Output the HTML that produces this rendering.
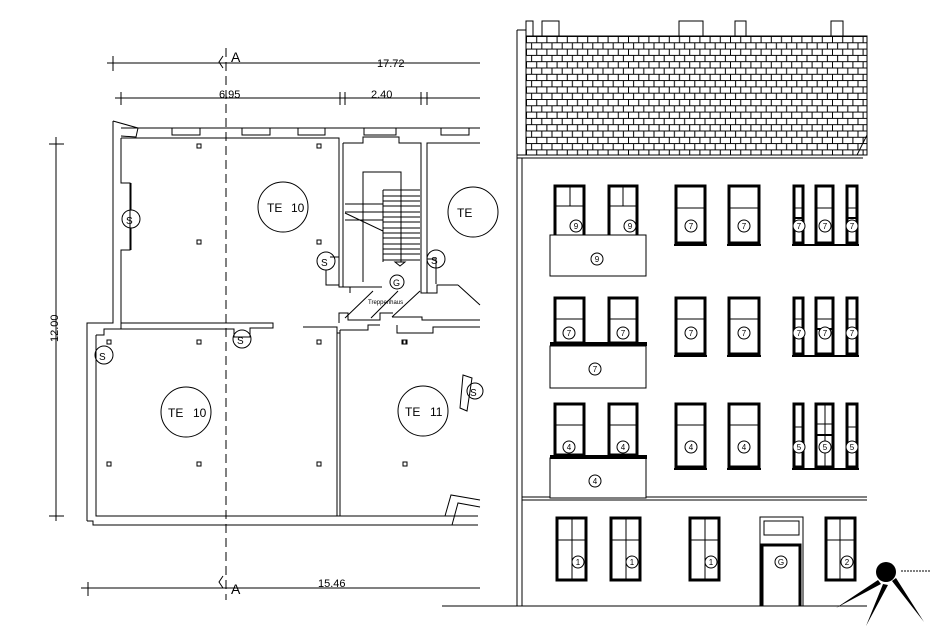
<!DOCTYPE html>
<html><head><meta charset="utf-8"><style>
html,body{margin:0;padding:0;background:#fff}
svg{display:block}
text{font-family:"Liberation Sans",sans-serif;fill:#000}
</style></head><body>
<svg width="939" height="640" viewBox="0 0 939 640" xmlns="http://www.w3.org/2000/svg">
<defs>
<pattern id="tiles" patternUnits="userSpaceOnUse" x="526" y="36" width="20.4" height="12.6">
<rect width="20.4" height="12.6" fill="#fff"/>
<path d="M0 0.5H20.4M0 6.8H20.4M0.5 0V6.3M10.7 0V6.3M5.6 6.3V12.6M15.8 6.3V12.6" stroke="#000" stroke-width="1" fill="none"/>
</pattern>
</defs>
<g fill="none" stroke="#000" stroke-width="1">
<!-- dimension lines -->
<path d="M107 63H480M113 56V71M115 98H480M121 92V105M340 92V105M345 92V105M421 92V105M427 92V105M56 137V521M49 144H64M49 516H64M81 588H480M88 582V596"/>
<path d="M226 48V600" stroke-dasharray="9,5"/>
<path d="M223 56L219 62L223 68M223 576L219 582L223 588"/>
<!-- plan walls upper -->
<path d="M113 121V323H87V521M121 138V183H130V250H121V329" />
<path d="M113 121L138 128L136 137L121 136" />
<path d="M121 128H480M121 138H339V287H350V293"/>
<path d="M172 128V135H200V128M242 128V135H270V128M298 128V135H325V128M364 128V135H396V128M441 128V135H469V128"/>
<path d="M343 143H363V137H399V143H421V293H430"/>
<path d="M343 143V287H382M427 293V143H480M427 293H437V285H458"/>
<path d="M363 282V172H401V262M383 190H420M383 196H420M383 201H420M383 206H420M383 212H420M383 217H420M383 222H420M383 228H420M383 233H420M383 238H420M383 244H420M383 249H420M383 254H420M383 260H420M383 190V262M345 204H383M345 212H383M345 220H383M345 213L383 231M395 262H405L400 266Z"/>
<!-- stair diagonals -->
<path d="M345 318L373 291M371 318L398 291M392 317L420 291M458 285L480 305"/>
<path d="M339 323V313H348V320H380V313H393"/>
<path d="M392 317H422V320H480M397 325V333H433V327H480"/>
<!-- lower rooms -->
<path d="M96 335V516H478M96 335H104V329H121M121 323H273V328H250V337H234V329H121M87 521H93V525H478M303 327H337V333H340"/>
<path d="M337 333V516M340 330V516M340 330H368V325H380"/>
<path d="M445 516L451 495L480 500M452 525L458 503L480 507"/>
<!-- s circles etc -->
<circle cx="131" cy="219" r="9"/><path d="M131 183V210M131 228V250"/>
<circle cx="326" cy="261" r="9"/><path d="M326 270V285H339M330 257H339"/>
<circle cx="436" cy="259" r="9"/><path d="M427 259H436V284"/>
<circle cx="104" cy="355" r="9"/>
<circle cx="242" cy="339" r="9"/>
<circle cx="397" cy="282" r="7"/>
<path d="M463 375L472 378L467 411L460 408Z"/><circle cx="475" cy="391" r="8"/>
<circle cx="283" cy="207" r="25"/>
<circle cx="473" cy="212" r="25"/>
<circle cx="186" cy="412" r="25"/>
<circle cx="423" cy="411" r="25"/>
<g stroke-width="1">
<rect x="197" y="144" width="4" height="4"/><rect x="317" y="144" width="4" height="4"/>
<rect x="197" y="240" width="4" height="4"/><rect x="317" y="240" width="4" height="4"/>
<rect x="107" y="340" width="4" height="4"/><rect x="197" y="340" width="4" height="4"/><rect x="317" y="340" width="4" height="4"/><rect x="403" y="340" width="4" height="4"/>
<rect x="107" y="462" width="4" height="4"/><rect x="197" y="462" width="4" height="4"/><rect x="317" y="462" width="4" height="4"/><rect x="403" y="462" width="4" height="4"/>
<rect x="402" y="340" width="4" height="4"/>
</g>
</g>
<g font-size="12">
<text x="231" y="62" font-size="14">A</text>
<text x="231" y="594" font-size="14">A</text>
<text x="377" y="67" font-size="11">17.72</text>
<text x="219" y="98" font-size="11">6.95</text>
<text x="371" y="98" font-size="11">2.40</text>
<text x="318" y="587" font-size="11">15.46</text>
<text x="58" y="342" font-size="11" transform="rotate(-90 58 342)" text-anchor="start" dx="0">12.00</text>
<text x="267" y="212">TE</text><text x="291" y="212">10</text>
<text x="457" y="217">TE</text>
<text x="168" y="417">TE</text><text x="193" y="417">10</text>
<text x="405" y="416">TE</text><text x="430" y="416">11</text>
<text x="126" y="224" font-size="10">S</text><text x="321" y="266" font-size="10">S</text><text x="431" y="264" font-size="10">S</text>
<text x="99" y="360" font-size="10">S</text><text x="237" y="344" font-size="10">S</text><text x="470" y="396" font-size="10">S</text>
<text x="393" y="286" font-size="9">G</text>
<text x="368" y="304" font-size="6">Treppenhaus</text>
</g>

<!-- FACADE -->
<rect x="526" y="36" width="341" height="119" fill="url(#tiles)" stroke="#000"/>
<g fill="#fff" stroke="#000" stroke-width="1">
<rect x="526" y="21" width="7" height="15"/><rect x="542" y="21" width="17" height="15"/><rect x="679" y="21" width="24" height="15"/><rect x="735" y="21" width="11" height="15"/><rect x="831" y="21" width="12" height="15"/>
</g>
<g fill="none" stroke="#000" stroke-width="1">
<path d="M517 30V606M522 158V606M517 30H526M517 155H863M517 158H863M522 497H867M522 500H867M442 606H867"/>
<path d="M857 155L867 135"/>
</g>
<!-- windows -->
<g fill="none" stroke="#000" stroke-width="3">
<!-- floor 1 -->
<rect x="555" y="186" width="29" height="58"/><rect x="609" y="186" width="28" height="58"/>
<rect x="676" y="186" width="29" height="57"/><rect x="729" y="186" width="30" height="57"/>
<rect x="794" y="186" width="9" height="57"/><rect x="816" y="186" width="17" height="57"/><rect x="847" y="186" width="10" height="57"/>
<!-- floor 2 -->
<rect x="555" y="298" width="29" height="45"/><rect x="609" y="298" width="28" height="45"/>
<rect x="676" y="298" width="29" height="56"/><rect x="729" y="298" width="30" height="56"/>
<rect x="794" y="298" width="9" height="56"/><rect x="816" y="298" width="17" height="56"/><rect x="847" y="298" width="10" height="56"/>
<!-- floor 3 -->
<rect x="555" y="404" width="29" height="51"/><rect x="609" y="404" width="28" height="51"/>
<rect x="676" y="404" width="29" height="63"/><rect x="729" y="404" width="30" height="63"/>
<rect x="794" y="404" width="9" height="63"/><rect x="816" y="404" width="17" height="63"/><rect x="847" y="404" width="10" height="63"/>
<!-- ground -->
<rect x="557" y="518" width="29" height="62"/><rect x="611" y="518" width="29" height="62"/><rect x="690" y="518" width="29" height="62"/><rect x="826" y="518" width="29" height="62"/>
<path d="M762 606V545H800V606"/>
</g>
<g fill="none" stroke="#000" stroke-width="1">
<path d="M555 206H584M609 206H637M676 208H705M729 208H759M794 208H803M816 208H833M847 208H857"/>
<path d="M555 319H584M609 319H637M676 319H705M729 319H759M794 319H803M816 319H833M847 319H857"/>
<path d="M555 425H584M609 425H637M676 425H705M729 425H759M794 427H803M816 424H833M847 427H857"/>
<path d="M557 540H586M611 540H640M690 540H719M826 540H855"/>
<path d="M570 186V206M623 186V206M572 518V580M626 518V580M705 518V580M840 518V580M825 404V467"/>
<rect x="760" y="517" width="43" height="89"/><rect x="764" y="521" width="35" height="14"/>
<rect x="550" y="235" width="96" height="41" fill="#fff"/>
<rect x="550" y="346" width="96" height="42" fill="#fff"/>
<rect x="550" y="458" width="96" height="40" fill="#fff"/>
</g>
<g fill="none" stroke="#000" stroke-width="2">
<path d="M674 245H707M727 245H761M792 245H859M674 356H707M727 356H761M792 356H859M674 469H707M727 469H761M792 469H859"/>
<path d="M794 218H803M847 218H857M794 329H803M816 329H833M847 329H857M816 435H833"/>
</g>
<g fill="#000"><rect x="550" y="342" width="97" height="4"/><rect x="550" y="455" width="97" height="4"/></g>
<!-- number labels -->
<g fill="#fff" stroke="#000" stroke-width="1">
<circle cx="576" cy="226" r="6"/><circle cx="630" cy="226" r="6"/><circle cx="597" cy="259" r="6"/>
<circle cx="691" cy="226" r="6"/><circle cx="744" cy="226" r="6"/><circle cx="799" cy="226" r="6"/><circle cx="825" cy="226" r="6"/><circle cx="852" cy="226" r="6"/>
<circle cx="569" cy="333" r="6"/><circle cx="623" cy="333" r="6"/><circle cx="595" cy="369" r="6"/>
<circle cx="691" cy="333" r="6"/><circle cx="744" cy="333" r="6"/><circle cx="799" cy="333" r="6"/><circle cx="825" cy="333" r="6"/><circle cx="852" cy="333" r="6"/>
<circle cx="569" cy="447" r="6"/><circle cx="623" cy="447" r="6"/><circle cx="595" cy="481" r="6"/>
<circle cx="691" cy="447" r="6"/><circle cx="744" cy="447" r="6"/><circle cx="799" cy="447" r="6"/><circle cx="825" cy="447" r="6"/><circle cx="852" cy="447" r="6"/>
<circle cx="578" cy="562" r="6"/><circle cx="632" cy="562" r="6"/><circle cx="711" cy="562" r="6"/><circle cx="781" cy="562" r="6"/><circle cx="847" cy="562" r="6"/>
</g>
<g font-size="8" text-anchor="middle">
<text x="576" y="229">9</text><text x="630" y="229">9</text><text x="597" y="262">9</text>
<text x="691" y="229">7</text><text x="744" y="229">7</text><text x="799" y="229">7</text><text x="825" y="229">7</text><text x="852" y="229">7</text>
<text x="569" y="336">7</text><text x="623" y="336">7</text><text x="595" y="372">7</text>
<text x="691" y="336">7</text><text x="744" y="336">7</text><text x="799" y="336">7</text><text x="825" y="336">7</text><text x="852" y="336">7</text>
<text x="569" y="450">4</text><text x="623" y="450">4</text><text x="595" y="484">4</text>
<text x="691" y="450">4</text><text x="744" y="450">4</text><text x="799" y="450">5</text><text x="825" y="450">5</text><text x="852" y="450">5</text>
<text x="578" y="565">1</text><text x="632" y="565">1</text><text x="711" y="565">1</text><text x="781" y="565">G</text><text x="847" y="565">2</text>
</g>
<!-- logo -->
<g fill="#000">
<circle cx="886" cy="572" r="10"/>
<polygon points="878,580 836,608 881,584"/>
<polygon points="883,584 866,626 888,585"/>
<polygon points="892,581 924,622 896,578"/>
</g>
<path d="M901 571H930" stroke="#000" stroke-width="1" stroke-dasharray="2,1"/>
</svg>
</body></html>
